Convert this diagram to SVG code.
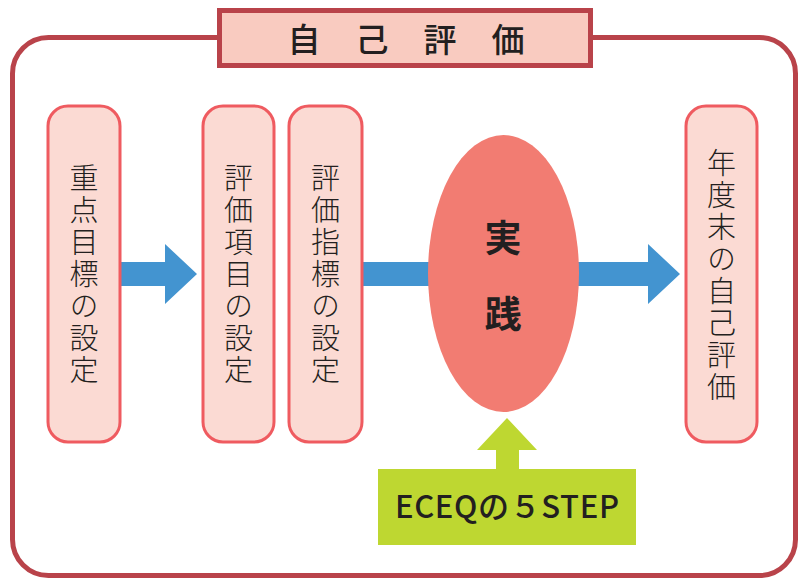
<svg xmlns="http://www.w3.org/2000/svg" width="798" height="578" viewBox="0 0 798 578">
<style>
.step{fill:#fbdad3;stroke:#ef5b60;stroke-width:3}
.vt{font-family:"Noto Sans CJK JP","Noto Sans",sans-serif;font-size:29px;font-weight:300;fill:#231f20;text-anchor:middle;writing-mode:vertical-rl;letter-spacing:3px}
.blue{fill:#4394d0}
.green{fill:#bed731}
</style>
<rect x="12.5" y="37.5" width="783" height="538" rx="36" fill="#fff" stroke="#b9434a" stroke-width="5"/>
<g id="title">
<rect x="219.5" y="10.5" width="371" height="55" fill="#f9cbc0" stroke="#b9434a" stroke-width="5"/>
<text font-family="'Noto Sans CJK JP',sans-serif" font-size="33" font-weight="500" fill="#231f20" text-anchor="middle" dominant-baseline="central"><tspan x="304" y="38">自</tspan><tspan x="372" y="38">己</tspan><tspan x="440" y="38">評</tspan><tspan x="508" y="38">価</tspan></text>
</g>
<g id="connectors">
<path class="blue" d="M120 262 H165 V244 L197 274 L165 304 V286 H120 Z"/>
<path class="blue" d="M362 262 H648 V244 L680 274 L648 304 V286 H362 Z"/>
<path class="green" d="M496 470 V450 H477 L507 418 L537 450 H519 V470 Z"/>
</g>
<g id="node1">
<rect class="step" x="48" y="106" width="72" height="336" rx="20"/>
<text class="vt" x="84" y="275.5">重点目標の設定</text>
</g>
<g id="node2">
<rect class="step" x="203" y="106" width="71" height="336" rx="20"/>
<text class="vt" x="238.5" y="275.5">評価項目の設定</text>
</g>
<g id="node3">
<rect class="step" x="289" y="106" width="73" height="336" rx="20"/>
<text class="vt" x="325.5" y="275.5">評価指標の設定</text>
</g>
<g id="practice">
<ellipse cx="503.5" cy="273.5" rx="75.5" ry="138.5" fill="#f27c72"/>
<text font-family="'Noto Sans CJK JP',sans-serif" font-size="37" font-weight="700" fill="#231f20" text-anchor="middle" dominant-baseline="central"><tspan x="503" y="236">実</tspan><tspan x="503" y="312">践</tspan></text>
</g>
<g id="node5">
<rect class="step" x="686" y="106" width="71" height="336" rx="20"/>
<text class="vt" x="721.5" y="276.5">年度末の自己評価</text>
</g>
<g id="eceq">
<rect class="green" x="378" y="469" width="258" height="76"/>
<text x="395" y="518" font-family="'Noto Sans CJK JP',sans-serif" font-size="31" font-weight="500" fill="#231f20" textLength="224" lengthAdjust="spacing">ECEQの５STEP</text>
</g>
</svg>
